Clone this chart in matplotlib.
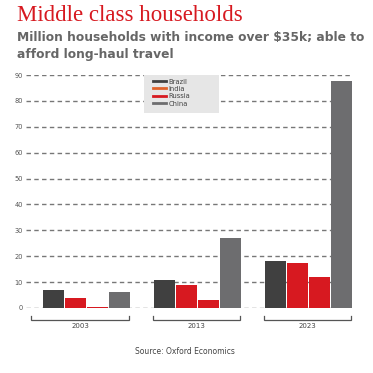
import matplotlib
matplotlib.use("Agg")
import matplotlib.pyplot as plt
import numpy as np
from matplotlib.lines import Line2D
from matplotlib.patches import Rectangle
import matplotlib.transforms as mtransforms

# ---- data ----
years = ["2003", "2013", "2023"]
countries = ["Brazil", "India", "Russia", "China"]
brazil = [7.1, 11.0, 18.3]
india = [4.0, 9.0, 17.2]
russia = [0.4, 3.2, 12.1]
china = [6.3, 27.2, 87.8]
yticks = [0, 10, 20, 30, 40, 50, 60, 70, 80, 90]

# ---- style ----
bar_colors = ["#404040", "#d71920", "#d71920", "#6d6d6f"]
legend_colors = ["#404040", "#e0622a", "#d71920", "#6d6d6f"]
W, H = 373, 373

fig = plt.figure(figsize=(W / 100, H / 100), dpi=100)
fig.patch.set_facecolor("white")

def fx(px):
    return px / W

def fy(py):
    return (H - py) / H

ax = fig.add_axes([fx(26), fy(308), fx(352) - fx(26), fy(75) - fy(308)])
ax.set_facecolor("white")

series = [brazil, india, russia, china]
step = 22 / 110.75
width = 21 / 110.75
x = np.arange(len(years))
for i, (vals, col) in enumerate(zip(series, bar_colors)):
    ax.bar(x + (i - 1.5) * step, vals, width=width, color=col, zorder=3, linewidth=0)

ax.set_xlim(-(86.5 - 26) / 110.75, 2 + (352 - 308) / 110.75)
ax.set_ylim(0, 90)
ax.set_yticks(yticks)
ax.set_yticklabels([str(t) for t in yticks])
ax.set_xticks([])
for s in ax.spines.values():
    s.set_visible(False)
ax.tick_params(axis="y", length=0, pad=2.2, labelsize=4.8, labelcolor="#555555")
ax.yaxis.grid(True, color="#777777", linewidth=1.0, linestyle=(0, (3.2, 2.4)), zorder=0)
ax.set_axisbelow(True)

# group brackets
trans = mtransforms.blended_transform_factory(ax.transData, fig.transFigure)
left_extra = [0.1, 0.0, 0.0]
for gi, yr in enumerate(years):
    xl = gi - 2 * step - left_extra[gi]
    xr = gi + 2 * step - 0.01
    ax.plot([xl, xl, xr, xr], [fy(316), fy(320), fy(320), fy(316)], transform=trans,
            color="#555555", linewidth=0.9, clip_on=False, solid_joinstyle="miter")
    ax.text((xl + xr) / 2, fy(326), yr, transform=trans,
            ha="center", va="center", fontsize=5.0, color="#444444")

# legend box
fig.patches.append(Rectangle((fx(144), fy(113)), fx(219) - fx(144), fy(75) - fy(113),
                             transform=fig.transFigure, facecolor="#e6e6e6",
                             edgecolor="none", zorder=5))
handles = [Line2D([0], [0], color=c, linewidth=2.0) for c in legend_colors]
leg = fig.legend(handles, countries, loc="upper left", bbox_to_anchor=(fx(153), fy(78.5)),
                 frameon=False, fontsize=4.9, handlelength=1.95, handletextpad=0.3,
                 labelspacing=0.2, borderpad=0, borderaxespad=0)
for t in leg.get_texts():
    t.set_color("#444444")
leg.set_zorder(6)

# titles
fig.text(fx(17), fy(21), "Middle class households", fontsize=16.5, color="#d71920",
         family="Liberation Serif", va="baseline", ha="left")
fig.text(fx(17), fy(41), "Million households with income over $35k; able to",
         fontsize=8.8, color="#666666", fontweight="bold", va="baseline", ha="left")
fig.text(fx(17), fy(58), "afford long-haul travel",
         fontsize=8.8, color="#666666", fontweight="bold", va="baseline", ha="left")

fig.text(fx(185), fy(351), "Source: Oxford Economics", fontsize=5.5, color="#444444",
         ha="center", va="center")

fig.savefig("out.png", dpi=100)
